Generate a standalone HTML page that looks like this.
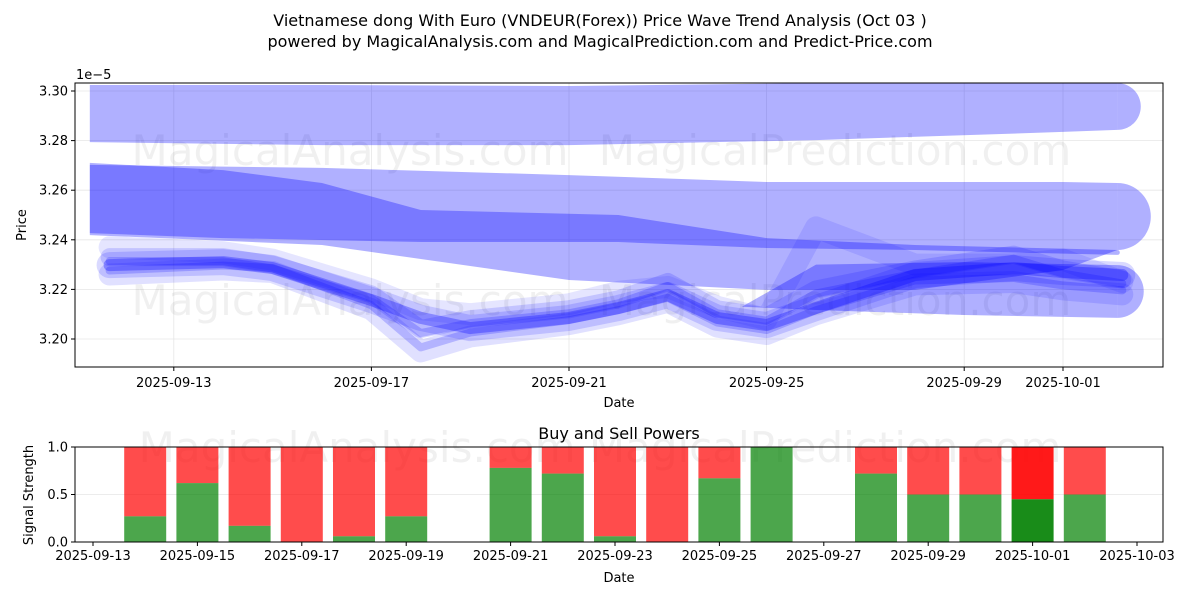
<!DOCTYPE html>
<html><head><meta charset="utf-8">
<style>
body{margin:0;background:#fff;font-family:"Liberation Sans","DejaVu Sans",sans-serif;}
svg text{font-family:"DejaVu Sans","Liberation Sans",sans-serif;}
</style></head>
<body>
<svg id="chart" width="1200" height="600" viewBox="0 0 1200 600" xmlns="http://www.w3.org/2000/svg">
<rect width="1200" height="600" fill="#fff"/>
<text x="600" y="26" text-anchor="middle" font-size="16">Vietnamese dong With Euro (VNDEUR(Forex)) Price Wave Trend Analysis (Oct 03 )</text>
<text x="600" y="47" text-anchor="middle" font-size="16">powered by MagicalAnalysis.com and MagicalPrediction.com and Predict-Price.com</text>
<g id="topPanel"></g>
<g id="botPanel"></g>
</svg>
<script>
// ---- price panel data ----
const waveDays = [0.7,3,4,6,7,8,10,11,12,13,14,15,17,19,20,21.2];
const waveMain = [3.2298,3.2310,3.2286,3.2157,3.2085,3.2044,3.2085,3.2125,3.2177,3.2085,3.2056,3.2125,3.2258,3.2286,3.2270,3.2258];
const waveB = [3.2330,3.2330,3.2300,3.2180,3.2040,3.2080,3.2120,3.2160,3.2230,3.2120,3.2090,3.2200,3.2280,3.2340,3.2280,3.2240];
const waveC = [3.2260,3.2280,3.2270,3.2120,3.1950,3.2010,3.2060,3.2100,3.2150,3.2050,3.2020,3.2100,3.2220,3.2230,3.2200,3.2180];
const waveD = [3.2370,3.2350,3.2320,3.2200,3.2120,3.2100,3.2140,3.2190,3.2210,3.2130,3.2080,3.2450,3.2300,3.2300,3.2320,3.2230];
const bandADays = [0.3,5,10,15,20,21.1];
const bandAUp = [3.3024,3.3024,3.3020,3.3032,3.3032,3.3032];
const bandALo = [3.2794,3.2782,3.2782,3.2802,3.2835,3.2843];
const bandBDays = [0.3,3,5,7,11,14,17,21.1];
const bandBUp = [3.2710,3.2681,3.2629,3.2520,3.2500,3.2407,3.2379,3.2359];
const bandBLo = [3.2427,3.2407,3.2399,3.2391,3.2391,3.2367,3.2359,3.2339];
const bandCDays = [0.3,5,10,14,17,20,21.1];
const bandCUp = [3.2702,3.2690,3.2661,3.2633,3.2633,3.2633,3.2629];
const bandCLo = [3.2419,3.2379,3.2238,3.2198,3.2198,3.2278,3.2359];
const bandDDays = [13.5,15,18,21.1];
const bandDUp = [3.2130,3.2300,3.2310,3.2298];
const bandDLo = [3.2130,3.2117,3.2097,3.2085];
const priceTicks = [3.20,3.22,3.24,3.26,3.28,3.30];
const dateTickDays = [2,6,10,14,18,20];
const dateTickLabels = ["2025-09-13","2025-09-17","2025-09-21","2025-09-25","2025-09-29","2025-10-01"];
// ---- signal panel data ----
const sigDays = [1,2,3,4,5,6,8,9,10,11,12,13,15,16,17,18,19];
const sigBuy = [0.27,0.62,0.17,0,0.06,0.27,0.78,0.72,0.06,0,0.67,1.0,0.72,0.5,0.5,0.45,0.5];
const sigTickDays = [0,2,4,6,8,10,12,14,16,18,20];
const sigTickLabels = ["2025-09-13","2025-09-15","2025-09-17","2025-09-19","2025-09-21","2025-09-23","2025-09-25","2025-09-27","2025-09-29","2025-10-01","2025-10-03"];
const sigYTicks = [0,0.5,1.0];

const NS="http://www.w3.org/2000/svg";
function mk(p,t,a){const e=document.createElementNS(NS,t);for(const k in a)e.setAttribute(k,a[k]);p.appendChild(e);return e;}
const topG=document.getElementById('topPanel'), botG=document.getElementById('botPanel');
const L=75,R=1163,T=83,B=367;
const xP=d=>75+d*49.4, yP=p=>91+(3.30-p)*2480;
priceTicks.forEach(v=>{const gl=mk(topG,'line',{x1:L,x2:R,y1:yP(v),y2:yP(v),stroke:'#e6e6e6','stroke-width':0.8});
});
dateTickDays.forEach(d=>{const gl=mk(topG,'line',{x1:xP(d),x2:xP(d),y1:T,y2:B,stroke:'#e6e6e6','stroke-width':0.8});
});
[[350,150],[835,150],[350,300],[835,300]].forEach((p,i)=>{const tx=mk(topG,'text',{x:p[0],y:p[1]+15,'text-anchor':'middle','font-size':42,fill:'#000','fill-opacity':0.06});
tx.textContent=i%2?'MagicalPrediction.com':'MagicalAnalysis.com';
});
const clip=mk(topG,'clipPath',{id:'cp'});mk(clip,'rect',{x:L,y:T,width:R-L,height:B-T});
const plotG=mk(topG,'g',{'clip-path':'url(#cp)'});
function band(days,up,lo,name){
 let pts=days.map((d,i)=>xP(d)+','+yP(up[i]));
 for(let i=days.length-1;i>=0;i--)pts.push(xP(days[i])+','+yP(lo[i]));
 const p=mk(plotG,'polygon',{points:pts.join(' '),fill:'#0000ff','fill-opacity':0.31});
 
 const n=days.length-1,r=(yP(lo[n])-yP(up[n]))/2;
 const c=mk(plotG,'path',{d:`M${xP(days[n])},${yP(up[n])} A${r},${r} 0 0 1 ${xP(days[n])},${yP(lo[n])} Z`,fill:'#0000ff','fill-opacity':0.31});
 
}
band(bandADays,bandAUp,bandALo,'wave-band-upper');
band(bandCDays,bandCUp,bandCLo,'wave-band-middle');
band(bandBDays,bandBUp,bandBLo,'wave-band-trend');
band(bandDDays,bandDUp,bandDLo,'wave-band-lower');
function wave(vals,w,op,name,off){
 const pts=waveDays.map((d,i)=>xP(d)+','+(yP(vals[i])+off)).join(' ');
 const l=mk(plotG,'polyline',{points:pts,fill:'none',stroke:'#0000ff','stroke-opacity':op,'stroke-width':w,'stroke-linejoin':'round','stroke-linecap':'round'});
 
}
wave(waveD,22,0.1,'wave-d',0);
wave(waveC,22,0.12,'wave-c',0);
wave(waveB,18,0.15,'wave-b',0);
wave(waveMain,26,0.15,'wave-main-outer',0);
wave(waveMain,12,0.3,'wave-main',0);
wave(waveB,8,0.2,'wave-b-inner',4);
wave(waveC,8,0.2,'wave-c-inner',-4);
mk(topG,'rect',{x:L,y:T,width:R-L,height:B-T,fill:'none',stroke:'#000','stroke-width':1});
priceTicks.forEach(v=>{const y=yP(v);mk(topG,'line',{x1:L-4,x2:L,y1:y,y2:y,stroke:'#000'});
const tx=mk(topG,'text',{x:L-7,y:y+4.5,'text-anchor':'end','font-size':13});tx.textContent=v.toFixed(2);
});
dateTickDays.forEach((d,i)=>{const x=xP(d);mk(topG,'line',{x1:x,x2:x,y1:B,y2:B+4,stroke:'#000'});
const tx=mk(topG,'text',{x:x,y:B+20,'text-anchor':'middle','font-size':13});tx.textContent=dateTickLabels[i];
});
let t=mk(topG,'text',{x:76,y:79,'font-size':13});t.textContent='1e−5';
t=mk(topG,'text',{x:619,y:407,'text-anchor':'middle','font-size':13});t.textContent='Date';
t=mk(topG,'text',{x:26,y:225,'text-anchor':'middle','font-size':13,transform:'rotate(-90 26 225)'});t.textContent='Price';

// ---- bottom ----
const bT=447,bB=542;
const xS=d=>93+d*52.2, yS=v=>bB-v*(bB-bT);
sigYTicks.forEach(v=>{const l=mk(botG,'line',{x1:L,x2:R,y1:yS(v),y2:yS(v),stroke:'#e6e6e6','stroke-width':0.8});
});
const wm=mk(botG,'text',{x:600,y:462,'text-anchor':'middle','font-size':42,fill:'#000','fill-opacity':0.06});
wm.textContent='MagicalAnalysis.com          MagicalPrediction.com';
const bw=42;
sigDays.forEach((d,i)=>{const x=xS(d)-bw/2,b=sigBuy[i];const last=i===15;
const r=mk(botG,'rect',{x:x,y:yS(1),width:bw,height:yS(b)-yS(1),fill:'#ff0000','fill-opacity':last?0.9:0.7});

const gr=mk(botG,'rect',{x:x,y:yS(b),width:bw,height:bB-yS(b),fill:'#008000','fill-opacity':last?0.9:0.7});
});
mk(botG,'rect',{x:L,y:bT,width:R-L,height:bB-bT,fill:'none',stroke:'#000','stroke-width':1});
sigYTicks.forEach(v=>{const y=yS(v);mk(botG,'line',{x1:L-4,x2:L,y1:y,y2:y,stroke:'#000'});
const tx=mk(botG,'text',{x:L-7,y:y+4.5,'text-anchor':'end','font-size':13});tx.textContent=v.toFixed(1);
});
sigTickDays.forEach((d,i)=>{const x=xS(d);mk(botG,'line',{x1:x,x2:x,y1:bB,y2:bB+4,stroke:'#000'});
const tx=mk(botG,'text',{x:x,y:bB+18,'text-anchor':'middle','font-size':13});tx.textContent=sigTickLabels[i];
});
t=mk(botG,'text',{x:619,y:439,'text-anchor':'middle','font-size':16});t.textContent='Buy and Sell Powers';
t=mk(botG,'text',{x:619,y:582,'text-anchor':'middle','font-size':13});t.textContent='Date';
t=mk(botG,'text',{x:33,y:495,'text-anchor':'middle','font-size':13,transform:'rotate(-90 33 495)'});t.textContent='Signal Strength';
</script>
</body></html>
